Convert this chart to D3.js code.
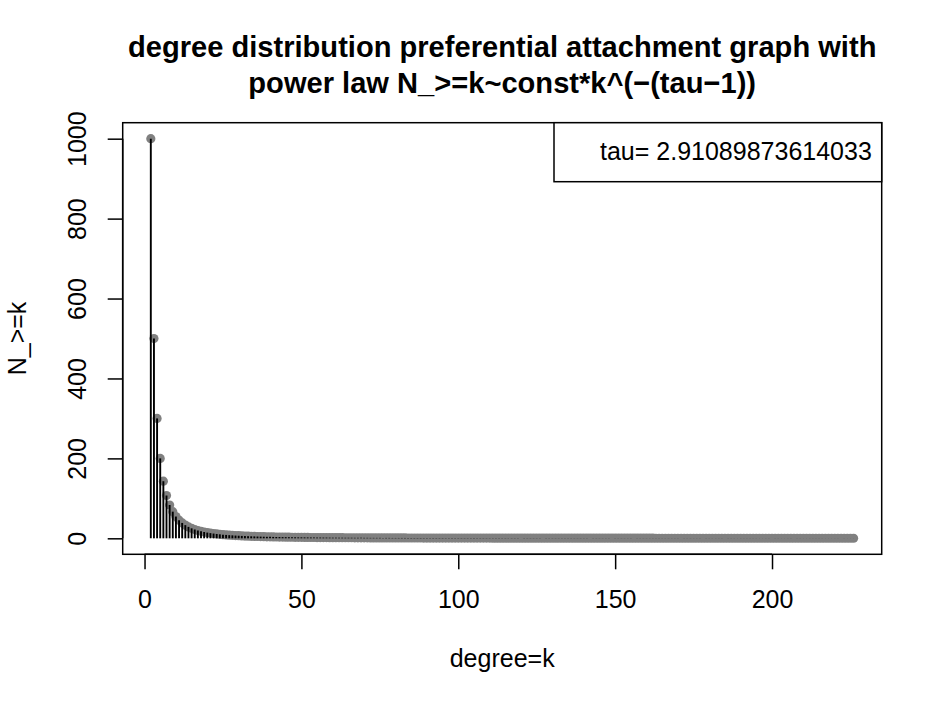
<!DOCTYPE html>
<html>
<head>
<meta charset="utf-8">
<script src="https://cdn.jsdelivr.net/npm/d3@7"></script>
<style>
  html, body { margin: 0; padding: 0; background: #fff; }
  svg { display: block; }
  text { font-family: "Liberation Sans", Arial, Helvetica, sans-serif; fill: #000; }
</style>
</head>
<body>
<svg id="chart" width="944" height="709"></svg>
<script>
// ---- data ----
const titleLines = ["degree distribution preferential attachment graph with",
                    "power law N_>=k~const*k^(\u2212(tau\u22121))"];
const xLabel = "degree=k";
const yLabel = "N_>=k";
const legendText = "tau= 2.91089873614033";
const firstDegree = 2;
// N_>=k for k = 2, 3, ..., 226
const countsAtLeastK = [
  1000, 500, 300, 200, 142.9, 107.1, 83.3, 66.7, 54.5,
  45.5, 38.5, 33.0, 28.6, 25.0, 22.1, 19.6, 17.5, 15.8, 14.3,
  13.0, 11.9, 10.9, 10.0, 9.2, 8.5, 7.9, 7.4, 6.9, 6.5,
  6.0, 5.7, 5.3, 5.0, 4.8, 4.5, 4.3, 4.0, 3.8, 3.7,
  3.5, 3.3, 3.2, 3.0, 2.9, 2.8, 2.7, 2.6, 2.4, 2.4,
  2.3, 2.2, 2.1, 2.0, 1.9, 1.9, 1.8, 1.8, 1.7, 1.6,
  1.6, 1.5, 1.5, 1.4, 1.4, 1.4, 1.3, 1.3, 1.2, 1.2,
  1.2, 1.1, 1.1, 1.1, 1.1, 1.0, 1.0, 1.0, 0.9, 0.9,
  0.9, 0.9, 0.9, 0.8, 0.8, 0.8, 0.8, 0.8, 0.7, 0.7,
  0.7, 0.7, 0.7, 0.7, 0.7, 0.6, 0.6, 0.6, 0.6, 0.6,
  0.58, 0.57, 0.56, 0.55, 0.54, 0.53, 0.52, 0.51, 0.50, 0.49,
  0.48, 0.47, 0.47, 0.46, 0.45, 0.44, 0.43, 0.43, 0.42, 0.41,
  0.41, 0.40, 0.39, 0.39, 0.38, 0.37, 0.37, 0.36, 0.36, 0.35,
  0.35, 0.34, 0.34, 0.33, 0.33, 0.32, 0.32, 0.31, 0.31, 0.30,
  0.30, 0.30, 0.29, 0.29, 0.28, 0.28, 0.28, 0.27, 0.27, 0.26,
  0.26, 0.26, 0.25, 0.25, 0.25, 0.24, 0.24, 0.24, 0.24, 0.23,
  0.23, 0.23, 0.22, 0.22, 0.22, 0.22, 0.21, 0.21, 0.21, 0.21,
  0.20, 0.20, 0.20, 0.20, 0.19, 0.19, 0.19, 0.19, 0.19, 0.18,
  0.18, 0.18, 0.18, 0.18, 0.17, 0.17, 0.17, 0.17, 0.17, 0.17,
  0.16, 0.16, 0.16, 0.16, 0.16, 0.16, 0.15, 0.15, 0.15, 0.15,
  0.15, 0.15, 0.14, 0.14, 0.14, 0.14, 0.14, 0.14, 0.14, 0.14,
  0.13, 0.13, 0.13, 0.13, 0.13, 0.13, 0.13, 0.13, 0.12, 0.12,
  0.12, 0.12, 0.12, 0.12, 0.12, 0.12
];
const xTicks = [0, 50, 100, 150, 200];
const yTicks = [0, 200, 400, 600, 800, 1000];

// ---- layout ----
const W = 944, H = 709;
const plot = { left: 122.7, right: 881.7, top: 122.7, bottom: 554.3 };
const fontSize = 25;

const data = countsAtLeastK.map((v, i) => ({ k: firstDegree + i, n: v }));

// R-style 4% range extension
const xMin = d3.min(data, d => d.k), xMax = d3.max(data, d => d.k);
const yMin = 0, yMax = d3.max(data, d => d.n);
const xPad = (xMax - xMin) * 0.04, yPad = (yMax - yMin) * 0.04;

const x = d3.scaleLinear().domain([xMin - xPad, xMax + xPad]).range([plot.left, plot.right]);
const y = d3.scaleLinear().domain([yMin - yPad, yMax + yPad]).range([plot.bottom, plot.top]);

const svg = d3.select("#chart");
svg.append("rect").attr("width", W).attr("height", H).attr("fill", "#fff");

// points (drawn first, stems on top)
svg.append("g").selectAll("circle").data(data).join("circle")
  .attr("cx", d => x(d.k)).attr("cy", d => y(d.n))
  .attr("r", 4.6).attr("fill", "#808080");

// stems
svg.append("g").selectAll("line").data(data).join("line")
  .attr("x1", d => x(d.k)).attr("x2", d => x(d.k))
  .attr("y1", y(0)).attr("y2", d => y(d.n))
  .attr("stroke", "#000").attr("stroke-width", 1.9);

// box
svg.append("rect")
  .attr("x", plot.left).attr("y", plot.top)
  .attr("width", plot.right - plot.left).attr("height", plot.bottom - plot.top)
  .attr("fill", "none").attr("stroke", "#000").attr("stroke-width", 1.5);

// x axis
const xAxis = d3.axisBottom(x).tickValues(xTicks).tickSize(15).tickPadding(21).tickFormat(d3.format("d"));
const gx = svg.append("g").attr("transform", `translate(0,${plot.bottom})`).call(xAxis);
gx.select(".domain").attr("d", `M${x(xTicks[0])},0H${x(xTicks[xTicks.length - 1])}`).attr("stroke-width", 1.5);
gx.selectAll(".tick line").attr("stroke-width", 1.5);
gx.selectAll(".tick text").attr("font-size", fontSize).attr("font-family", null).attr("fill", "#000");

// y axis
const yAxis = d3.axisLeft(y).tickValues(yTicks).tickSize(15).tickFormat(d3.format("d"));
const gy = svg.append("g").attr("transform", `translate(${plot.left},0)`).call(yAxis);
gy.select(".domain").attr("d", `M0,${y(yTicks[0])}V${y(yTicks[yTicks.length - 1])}`).attr("stroke-width", 1.5);
gy.selectAll(".tick line").attr("stroke-width", 1.5);
gy.selectAll(".tick text")
  .attr("font-size", fontSize).attr("font-family", null).attr("fill", "#000")
  .attr("x", null).attr("dy", null)
  .attr("transform", "translate(-37,0) rotate(-90)")
  .attr("text-anchor", "middle");

// axis titles
svg.append("text").attr("x", (plot.left + plot.right) / 2).attr("y", 667)
  .attr("text-anchor", "middle").attr("font-size", fontSize).text(xLabel);
svg.append("text")
  .attr("transform", `translate(26,${(plot.top + plot.bottom) / 2}) rotate(-90)`)
  .attr("text-anchor", "middle").attr("font-size", fontSize).text(yLabel);

// title
svg.append("g").selectAll("text").data(titleLines).join("text")
  .attr("transform", (d, i) => `translate(${(plot.left + plot.right) / 2},${57 + i * 36}) scale(0.97,1)`)
  .attr("text-anchor", "middle").attr("font-size", 30).attr("font-weight", "bold")
  .text(d => d);

// legend
const legW = 327.7, legH = 59;
svg.append("rect")
  .attr("x", plot.right - legW).attr("y", plot.top)
  .attr("width", legW).attr("height", legH)
  .attr("fill", "#fff").attr("stroke", "#000").attr("stroke-width", 1.5);
svg.append("text").attr("x", plot.right - legW + 46).attr("y", plot.top + 37)
  .attr("font-size", fontSize).text(legendText);
</script>
</body>
</html>
